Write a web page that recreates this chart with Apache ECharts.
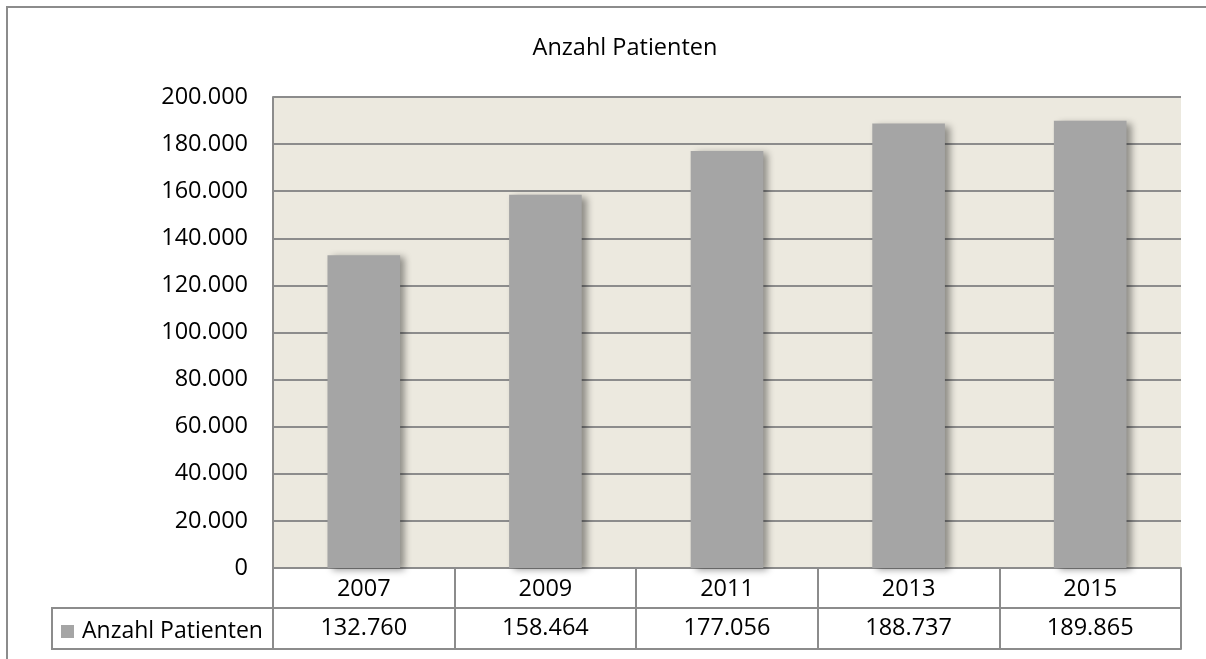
<!DOCTYPE html>
<html>
<head>
<meta charset="utf-8">
<script src="https://cdn.jsdelivr.net/npm/echarts@6/dist/echarts.min.js"></script>
<style>
    html, body {margin: 0; padding: 0; background: #fff;}
    #chart {width: 1206px; height: 659px;}
</style>
</head>
<body>
<div id="chart"></div>
<script>
const years = ['2007', '2009', '2011', '2013', '2015'];
const patients = [132760, 158464, 177056, 188737, 189865];
const seriesName = 'Anzahl Patienten';

const FONT = 'Open Sans';
const FS = 23.5;
const LINE = '#8c8c8c';

// 132760 -> 132.760
function fmt(v) {
    return String(v).replace(/\B(?=(\d{3})+(?!\d))/g, '.');
}

const chart = echarts.init(document.getElementById('chart'));

chart.setOption({
    animation: false,
    textStyle: {fontFamily: FONT, color: '#000'},
    title: {
        text: seriesName,
        left: 620,
        top: 31,
        textAlign: 'center',
        textStyle: {fontFamily: FONT, fontSize: FS, fontWeight: 'normal', color: '#000'}
    },
    legend: {
        data: [seriesName],
        left: 56,
        top: 615,
        icon: 'rect',
        itemWidth: 13,
        itemHeight: 13,
        itemGap: 0,
        textStyle: {fontFamily: FONT, fontSize: 23, color: '#000', padding: [0, 0, 0, 3]}
    },
    grid: {
        left: 273, top: 97, width: 908, height: 471,
        show: true, backgroundColor: '#ece9df', borderWidth: 0
    },
    xAxis: [{
        type: 'category',
        data: years,
        position: 'bottom',
        axisLine: {lineStyle: {color: LINE, width: 2}},
        axisTick: {show: true, interval: 0, length: 81, lineStyle: {color: LINE, width: 2}},
        axisLabel: {margin: 9, fontSize: FS, color: '#000', fontFamily: FONT}
    }, {
        type: 'category',
        data: patients.map(fmt),
        position: 'bottom',
        offset: 40,
        axisLine: {lineStyle: {color: LINE, width: 2}},
        axisTick: {show: false},
        axisLabel: {margin: 8, fontSize: FS, color: '#000', fontFamily: FONT}
    }, {
        type: 'category',
        data: years,
        position: 'bottom',
        offset: 81,
        axisLine: {lineStyle: {color: LINE, width: 2}},
        axisTick: {show: false},
        axisLabel: {show: false}
    }],
    yAxis: {
        type: 'value',
        min: 0,
        max: 200000,
        interval: 20000,
        axisLine: {show: true, lineStyle: {color: LINE, width: 2}},
        axisTick: {show: false},
        splitLine: {lineStyle: {color: LINE, width: 2}},
        axisLabel: {margin: 25, fontSize: FS, color: '#000', fontFamily: FONT, formatter: fmt}
    },
    series: [{
        name: seriesName,
        type: 'bar',
        data: patients,
        barWidth: '40%',
        itemStyle: {
            color: '#a5a5a5',
            shadowColor: 'rgba(0,0,0,0.4)',
            shadowBlur: 7,
            shadowOffsetX: 5,
            shadowOffsetY: 2
        }
    }],
    graphic: [{
        type: 'polyline',
        shape: {points: [[7, 659], [7, 7], [1206, 7]]},
        style: {stroke: LINE, lineWidth: 2, fill: null},
        silent: true
    }, {
        type: 'rect',
        shape: {x: 52, y: 608, width: 221, height: 41},
        style: {stroke: LINE, lineWidth: 2, fill: null},
        silent: true
    }]
});
</script>
</body>
</html>
